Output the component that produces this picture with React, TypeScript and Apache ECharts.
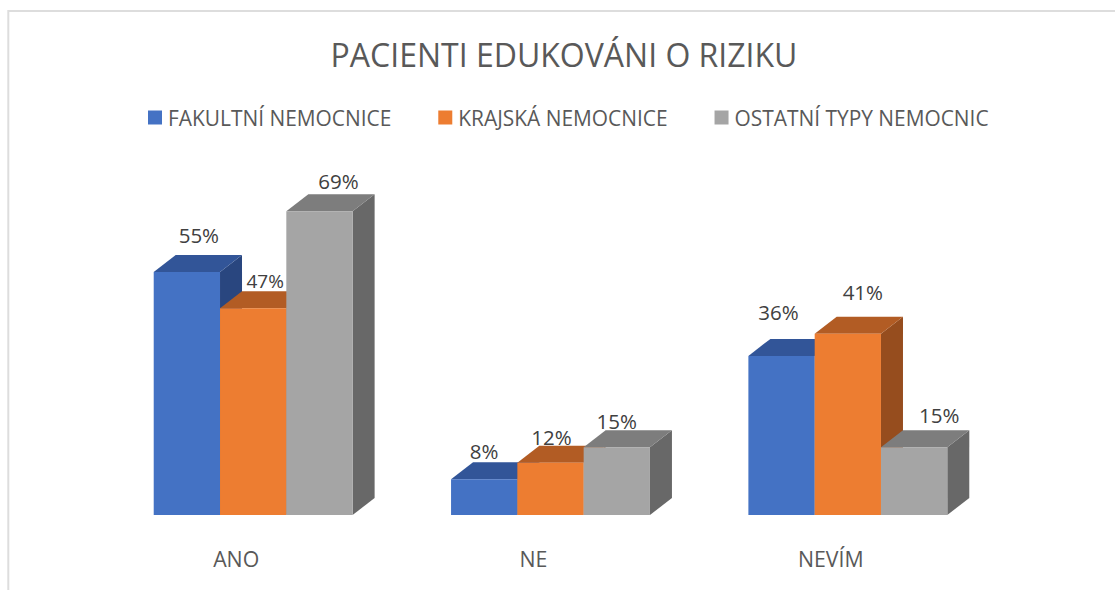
import React, { useEffect, useRef } from "react";
import * as echarts from "echarts";

const categories = ["ANO", "NE", "NEVÍM"];
const seriesNames = ["FAKULTNÍ NEMOCNICE", "KRAJSKÁ NEMOCNICE", "OSTATNÍ TYPY NEMOCNIC"];
const fakultni = [55, 8.1, 36];
const krajska = [46.8, 11.8, 41];
const ostatni = [68.7, 15.3, 15.3];
const seriesValues = [fakultni, krajska, ostatni];

const frontColors = ["#4472C4", "#ED7D31", "#A5A5A5"];
const topColors = ["#325598", "#B25C24", "#7D7D7D"];
const sideColors = ["#29467F", "#964D1E", "#686868"];
const FONT = "'Open Sans', sans-serif";
const TEXT = "#595959";
const LABEL = "#404040";

// hand-placed data labels: [dx from bar centre, dy from bar top]
const labelNudges = [
  [[12, -37], [0, -28], [-3, -44]],
  [[12, -27], [1, -26], [15, -42]],
  [[19, -30], [0, -26], [25, -32]],
];
const labelSizes = [
  [20.5, 20.5, 20.5],
  [19, 20.5, 20.5],
  [20.5, 20.5, 20.5],
];

const BAR_W = 66.3;
const DEPTH_X = 22;
const DEPTH_Y = 17;
const GROUP_SHIFT = 17;

function renderBar(seriesIndex: number) {
  return (params: any, api: any) => {
    const cat = api.value(0);
    const val = api.value(1);
    const [cx, top] = api.coord([cat, val]);
    const [, base] = api.coord([cat, 0]);
    const x0 = cx + GROUP_SHIFT + (seriesIndex - 1.5) * BAR_W;
    const x1 = x0 + BAR_W;
    const poly = (points: number[][], fill: string) => ({
      type: "polygon",
      shape: { points },
      style: { fill },
    });
    const nudge = labelNudges[seriesIndex][cat];
    return {
      type: "group",
      children: [
        poly(
          [[x1, top], [x1 + DEPTH_X, top - DEPTH_Y], [x1 + DEPTH_X, base - DEPTH_Y], [x1, base]],
          sideColors[seriesIndex]
        ),
        poly(
          [[x0, top], [x0 + DEPTH_X, top - DEPTH_Y], [x1 + DEPTH_X, top - DEPTH_Y], [x1, top]],
          topColors[seriesIndex]
        ),
        {
          type: "rect",
          shape: { x: x0, y: top, width: BAR_W, height: base - top },
          style: { fill: frontColors[seriesIndex] },
        },
        {
          type: "text",
          z2: 100,
          style: {
            x: (x0 + x1) / 2 + nudge[0],
            y: top + nudge[1],
            text: Math.round(val) + "%",
            fill: LABEL,
            font: `${labelSizes[seriesIndex][cat]}px ${FONT}`,
            align: "center",
            verticalAlign: "middle",
          },
        },
      ],
    };
  };
}

export default function App() {
  const ref = useRef<HTMLDivElement>(null);
  useEffect(() => {
    const chart = echarts.init(ref.current!, undefined, { renderer: "svg" });
    chart.setOption({
      animation: false,
      backgroundColor: "#FFFFFF",
      title: {
        text: "PACIENTI EDUKOVÁNI O RIZIKU",
        left: 559,
        top: 33,
        textAlign: "center",
        textStyle: { fontFamily: FONT, fontWeight: 400, fontSize: 32, color: TEXT },
      },
      legend: {
        left: 148,
        top: 107,
        padding: 0,
        itemWidth: 14,
        itemHeight: 14,
        itemGap: 47,
        icon: "rect",
        data: seriesNames,
        textStyle: { fontFamily: FONT, fontSize: 20.9, color: TEXT, padding: [0, 0, 0, 1] },
      },
      grid: { left: 87.5, width: 892, top: 161.4, height: 353.6 },
      xAxis: {
        type: "category",
        data: categories,
        axisLine: { show: false },
        axisTick: { show: false },
        axisLabel: { fontFamily: FONT, fontSize: 21.3, color: TEXT, margin: 33 },
      },
      yAxis: { type: "value", min: 0, max: 80, show: false },
      graphic: [
        {
          type: "polyline",
          silent: true,
          z: -1,
          shape: { points: [[8.3, 590], [8.3, 11], [1115, 11]] },
          style: { fill: "none", stroke: "#DDDDDD", lineWidth: 2 },
        },
      ],
      series: seriesNames.map((name, i) => ({
        type: "custom",
        name,
        itemStyle: { color: frontColors[i] },
        renderItem: renderBar(i),
        encode: { x: 0, y: 1 },
        clip: false,
        data: seriesValues[i].map((v, c) => [c, v]),
      })),
    });
    return () => chart.dispose();
  }, []);
  return <div ref={ref} style={{ position: "absolute", left: 0, top: 0, width: 1115, height: 590 }} />;
}
